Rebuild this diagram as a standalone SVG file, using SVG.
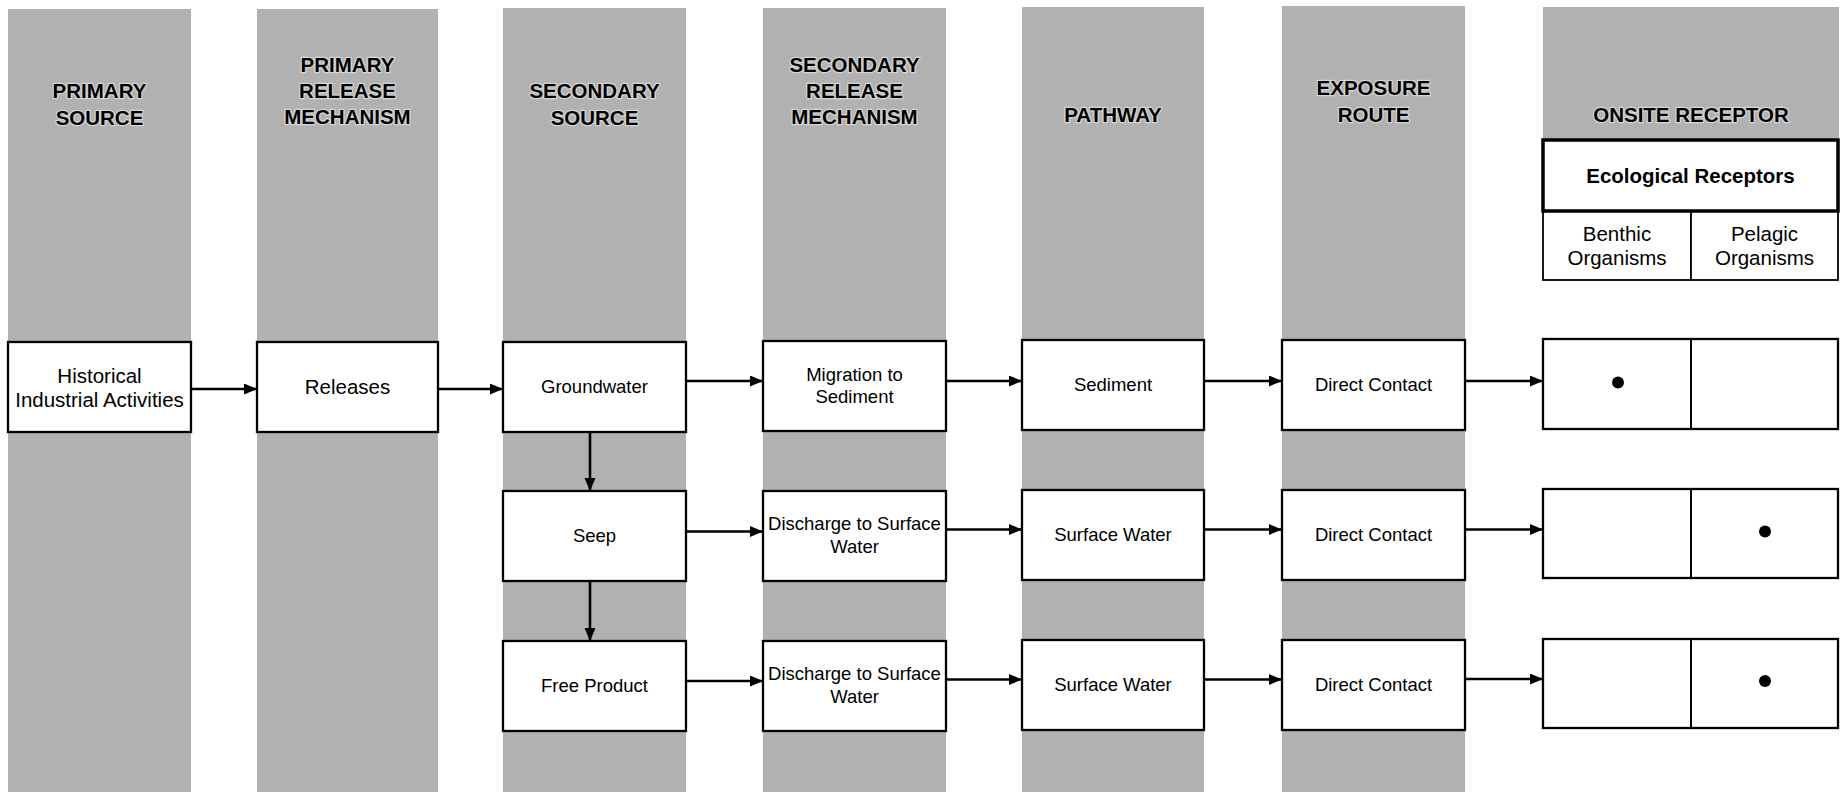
<svg xmlns="http://www.w3.org/2000/svg" width="1847" height="792" viewBox="0 0 1847 792">
<defs>
<marker id="ah" markerUnits="userSpaceOnUse" markerWidth="14" markerHeight="12" refX="13" refY="5.5" orient="auto">
<path d="M0,0 L13,5.5 L0,11 z" fill="#000"/>
</marker>
<style>
.band{fill:#b1b1b1}
.hdr{font-family:"Liberation Sans",Arial,sans-serif;font-weight:bold;font-size:20.5px;fill:#000;text-anchor:middle;stroke:#d6d6d6;stroke-width:2.5px;paint-order:stroke;stroke-linejoin:round}
.box{fill:#fff;stroke:#000;stroke-width:2.3}
.t1{font-family:"Liberation Sans",Arial,sans-serif;font-size:20.5px;fill:#000;text-anchor:middle}
.t2{font-family:"Liberation Sans",Arial,sans-serif;font-size:18.5px;fill:#000;text-anchor:middle}
.eco{fill:#fff;stroke:#000;stroke-width:3.5}
.cell{fill:#fff;stroke:#000;stroke-width:1.8}
.ecot{font-family:"Liberation Sans",Arial,sans-serif;font-weight:bold;font-size:20.5px;fill:#000;text-anchor:middle}
.subt{font-family:"Liberation Sans",Arial,sans-serif;font-size:20.5px;fill:#000;text-anchor:middle}
.conn line{stroke:#000;stroke-width:2.6;marker-end:url(#ah)}
</style>
</defs>
<rect width="1847" height="792" fill="#fff"/>

<g id="bands">
<rect class="band" x="8" y="9" width="183" height="783"/>
<rect class="band" x="257" y="9" width="181" height="783"/>
<rect class="band" x="503" y="8" width="183" height="784"/>
<rect class="band" x="763" y="8" width="183" height="784"/>
<rect class="band" x="1022" y="7" width="182" height="785"/>
<rect class="band" x="1282" y="6" width="183" height="786"/>
<rect class="band" x="1543" y="7" width="296" height="134"/>
</g>

<g id="headers">
<text class="hdr" x="99.5" y="98">PRIMARY</text>
<text class="hdr" x="99.5" y="125">SOURCE</text>
<text class="hdr" x="347.5" y="72">PRIMARY</text>
<text class="hdr" x="347.5" y="98">RELEASE</text>
<text class="hdr" x="347.5" y="124">MECHANISM</text>
<text class="hdr" x="594.5" y="98">SECONDARY</text>
<text class="hdr" x="594.5" y="125">SOURCE</text>
<text class="hdr" x="854.5" y="72">SECONDARY</text>
<text class="hdr" x="854.5" y="98">RELEASE</text>
<text class="hdr" x="854.5" y="124">MECHANISM</text>
<text class="hdr" x="1113" y="122">PATHWAY</text>
<text class="hdr" x="1373.5" y="95">EXPOSURE</text>
<text class="hdr" x="1373.5" y="122">ROUTE</text>
<text class="hdr" x="1691" y="122">ONSITE RECEPTOR</text>
</g>

<g id="connectors" class="conn">
<line x1="191" y1="389" x2="257" y2="389"/>
<line x1="438" y1="389" x2="503" y2="389"/>
<line x1="686" y1="381" x2="763" y2="381"/>
<line x1="946" y1="381" x2="1022" y2="381"/>
<line x1="1204" y1="381" x2="1282" y2="381"/>
<line x1="1465" y1="381" x2="1543" y2="381"/>
<line x1="686" y1="531.5" x2="763" y2="531.5"/>
<line x1="946" y1="529.5" x2="1022" y2="529.5"/>
<line x1="1204" y1="529.5" x2="1282" y2="529.5"/>
<line x1="1465" y1="529.5" x2="1543" y2="529.5"/>
<line x1="686" y1="681" x2="763" y2="681"/>
<line x1="946" y1="679.5" x2="1022" y2="679.5"/>
<line x1="1204" y1="679.5" x2="1282" y2="679.5"/>
<line x1="1465" y1="679" x2="1543" y2="679"/>
<line x1="590" y1="431" x2="590" y2="491"/>
<line x1="590" y1="580" x2="590" y2="641"/>
</g>

<g id="historical">
<rect class="box" x="8" y="342" width="183" height="90"/>
<text class="t1" x="99.5" y="383">Historical</text>
<text class="t1" x="99.5" y="407">Industrial Activities</text>
</g>
<g id="releases">
<rect class="box" x="257" y="342" width="181" height="90"/>
<text class="t1" x="347.5" y="394">Releases</text>
</g>
<g id="groundwater">
<rect class="box" x="503" y="342" width="183" height="90"/>
<text class="t2" x="594.5" y="393">Groundwater</text>
</g>
<g id="seep">
<rect class="box" x="503" y="491" width="183" height="90"/>
<text class="t2" x="594.5" y="542">Seep</text>
</g>
<g id="freeproduct">
<rect class="box" x="503" y="641" width="183" height="90"/>
<text class="t2" x="594.5" y="692">Free Product</text>
</g>
<g id="migration">
<rect class="box" x="763" y="341" width="183" height="90"/>
<text class="t2" x="854.5" y="380.5">Migration to</text>
<text class="t2" x="854.5" y="403">Sediment</text>
</g>
<g id="discharge1">
<rect class="box" x="763" y="491" width="183" height="90"/>
<text class="t2" x="854.5" y="530">Discharge to Surface</text>
<text class="t2" x="854.5" y="553">Water</text>
</g>
<g id="discharge2">
<rect class="box" x="763" y="641" width="183" height="90"/>
<text class="t2" x="854.5" y="680">Discharge to Surface</text>
<text class="t2" x="854.5" y="703">Water</text>
</g>
<g id="sediment">
<rect class="box" x="1022" y="340" width="182" height="90"/>
<text class="t2" x="1113" y="391">Sediment</text>
</g>
<g id="surfacewater1">
<rect class="box" x="1022" y="490" width="182" height="90"/>
<text class="t2" x="1113" y="541">Surface Water</text>
</g>
<g id="surfacewater2">
<rect class="box" x="1022" y="640" width="182" height="90"/>
<text class="t2" x="1113" y="691">Surface Water</text>
</g>
<g id="direct1">
<rect class="box" x="1282" y="340" width="183" height="90"/>
<text class="t2" x="1373.5" y="391">Direct Contact</text>
</g>
<g id="direct2">
<rect class="box" x="1282" y="490" width="183" height="90"/>
<text class="t2" x="1373.5" y="541">Direct Contact</text>
</g>
<g id="direct3">
<rect class="box" x="1282" y="640" width="183" height="90"/>
<text class="t2" x="1373.5" y="691">Direct Contact</text>
</g>

<g id="receptor-header">
<rect class="cell" x="1543" y="211" width="148" height="69"/>
<rect class="cell" x="1691" y="211" width="147" height="69"/>
<rect class="eco" x="1543" y="140" width="295" height="71"/>
<text class="ecot" x="1690.5" y="183">Ecological Receptors</text>
<text class="subt" x="1617" y="240.5">Benthic</text>
<text class="subt" x="1617" y="265">Organisms</text>
<text class="subt" x="1764.5" y="240.5">Pelagic</text>
<text class="subt" x="1764.5" y="265">Organisms</text>
</g>

<g id="receptor-row1">
<rect class="box" x="1543" y="339" width="295" height="90"/>
<line x1="1691" y1="339" x2="1691" y2="429" stroke="#000" stroke-width="2"/>
<circle cx="1618" cy="382.5" r="6" fill="#000"/>
</g>
<g id="receptor-row2">
<rect class="box" x="1543" y="489" width="295" height="89"/>
<line x1="1691" y1="489" x2="1691" y2="578" stroke="#000" stroke-width="2"/>
<circle cx="1765" cy="531.5" r="6" fill="#000"/>
</g>
<g id="receptor-row3">
<rect class="box" x="1543" y="639" width="295" height="89"/>
<line x1="1691" y1="639" x2="1691" y2="728" stroke="#000" stroke-width="2"/>
<circle cx="1765" cy="681" r="6" fill="#000"/>
</g>
</svg>
